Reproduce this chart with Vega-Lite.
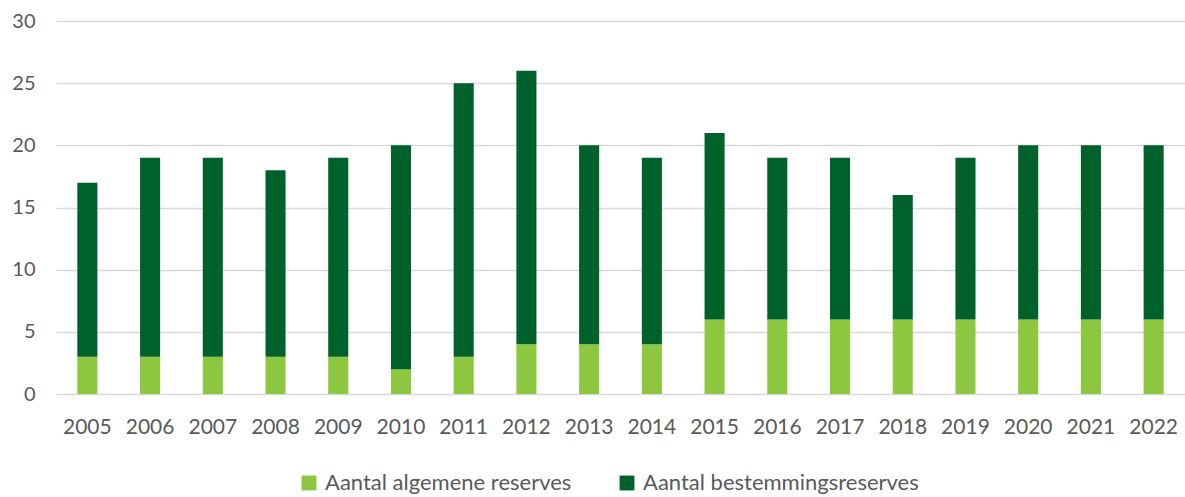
{
  "$schema": "https://vega.github.io/schema/vega-lite/v6.json",
  "width": 1129,
  "height": 373,
  "autosize": {"type": "none"},
  "padding": {"left": 56, "top": 21, "right": 0, "bottom": 103},
  "background": "white",
  "config": {"view": {"stroke": null}, "font": "Lato"},
  "data": {"values": [
    {"jaar": "2005", "soort": "Aantal algemene reserves", "o": 1, "n": 3},
    {"jaar": "2005", "soort": "Aantal bestemmingsreserves", "o": 2, "n": 14},
    {"jaar": "2006", "soort": "Aantal algemene reserves", "o": 1, "n": 3},
    {"jaar": "2006", "soort": "Aantal bestemmingsreserves", "o": 2, "n": 16},
    {"jaar": "2007", "soort": "Aantal algemene reserves", "o": 1, "n": 3},
    {"jaar": "2007", "soort": "Aantal bestemmingsreserves", "o": 2, "n": 16},
    {"jaar": "2008", "soort": "Aantal algemene reserves", "o": 1, "n": 3},
    {"jaar": "2008", "soort": "Aantal bestemmingsreserves", "o": 2, "n": 15},
    {"jaar": "2009", "soort": "Aantal algemene reserves", "o": 1, "n": 3},
    {"jaar": "2009", "soort": "Aantal bestemmingsreserves", "o": 2, "n": 16},
    {"jaar": "2010", "soort": "Aantal algemene reserves", "o": 1, "n": 2},
    {"jaar": "2010", "soort": "Aantal bestemmingsreserves", "o": 2, "n": 18},
    {"jaar": "2011", "soort": "Aantal algemene reserves", "o": 1, "n": 3},
    {"jaar": "2011", "soort": "Aantal bestemmingsreserves", "o": 2, "n": 22},
    {"jaar": "2012", "soort": "Aantal algemene reserves", "o": 1, "n": 4},
    {"jaar": "2012", "soort": "Aantal bestemmingsreserves", "o": 2, "n": 22},
    {"jaar": "2013", "soort": "Aantal algemene reserves", "o": 1, "n": 4},
    {"jaar": "2013", "soort": "Aantal bestemmingsreserves", "o": 2, "n": 16},
    {"jaar": "2014", "soort": "Aantal algemene reserves", "o": 1, "n": 4},
    {"jaar": "2014", "soort": "Aantal bestemmingsreserves", "o": 2, "n": 15},
    {"jaar": "2015", "soort": "Aantal algemene reserves", "o": 1, "n": 6},
    {"jaar": "2015", "soort": "Aantal bestemmingsreserves", "o": 2, "n": 15},
    {"jaar": "2016", "soort": "Aantal algemene reserves", "o": 1, "n": 6},
    {"jaar": "2016", "soort": "Aantal bestemmingsreserves", "o": 2, "n": 13},
    {"jaar": "2017", "soort": "Aantal algemene reserves", "o": 1, "n": 6},
    {"jaar": "2017", "soort": "Aantal bestemmingsreserves", "o": 2, "n": 13},
    {"jaar": "2018", "soort": "Aantal algemene reserves", "o": 1, "n": 6},
    {"jaar": "2018", "soort": "Aantal bestemmingsreserves", "o": 2, "n": 10},
    {"jaar": "2019", "soort": "Aantal algemene reserves", "o": 1, "n": 6},
    {"jaar": "2019", "soort": "Aantal bestemmingsreserves", "o": 2, "n": 13},
    {"jaar": "2020", "soort": "Aantal algemene reserves", "o": 1, "n": 6},
    {"jaar": "2020", "soort": "Aantal bestemmingsreserves", "o": 2, "n": 14},
    {"jaar": "2021", "soort": "Aantal algemene reserves", "o": 1, "n": 6},
    {"jaar": "2021", "soort": "Aantal bestemmingsreserves", "o": 2, "n": 14},
    {"jaar": "2022", "soort": "Aantal algemene reserves", "o": 1, "n": 6},
    {"jaar": "2022", "soort": "Aantal bestemmingsreserves", "o": 2, "n": 14}
  ]},
  "mark": {"type": "bar"},
  "encoding": {
    "x": {
      "field": "jaar", "type": "ordinal",
      "scale": {"paddingInner": 0.68, "paddingOuter": 0.34},
      "axis": {"title": null, "labelAngle": 0, "labelFontSize": 21, "labelColor": "#595959", "labelPadding": 22, "ticks": false, "domain": false, "grid": false}
    },
    "y": {
      "field": "n", "type": "quantitative", "stack": "zero",
      "scale": {"domain": [0, 30]},
      "axis": {"title": null, "values": [0, 5, 10, 15, 20, 25, 30], "labelFontSize": 20, "labelColor": "#595959", "labelPadding": 21, "ticks": false, "domain": false, "gridColor": "#d9d9d9", "gridWidth": 1.5}
    },
    "color": {
      "field": "soort", "type": "nominal",
      "scale": {"domain": ["Aantal algemene reserves", "Aantal bestemmingsreserves"], "range": ["#8DC63F", "#00612A"]},
      "legend": {"title": null, "orient": "none", "direction": "horizontal", "legendX": 242, "legendY": 451, "symbolType": "square", "symbolSize": 220, "symbolStrokeWidth": 0, "labelFontSize": 22, "labelColor": "#595959", "labelLimit": 400, "columnPadding": 44, "symbolOffset": 0, "labelOffset": 5}
    },
    "order": {"field": "o", "type": "quantitative"}
  }
}
